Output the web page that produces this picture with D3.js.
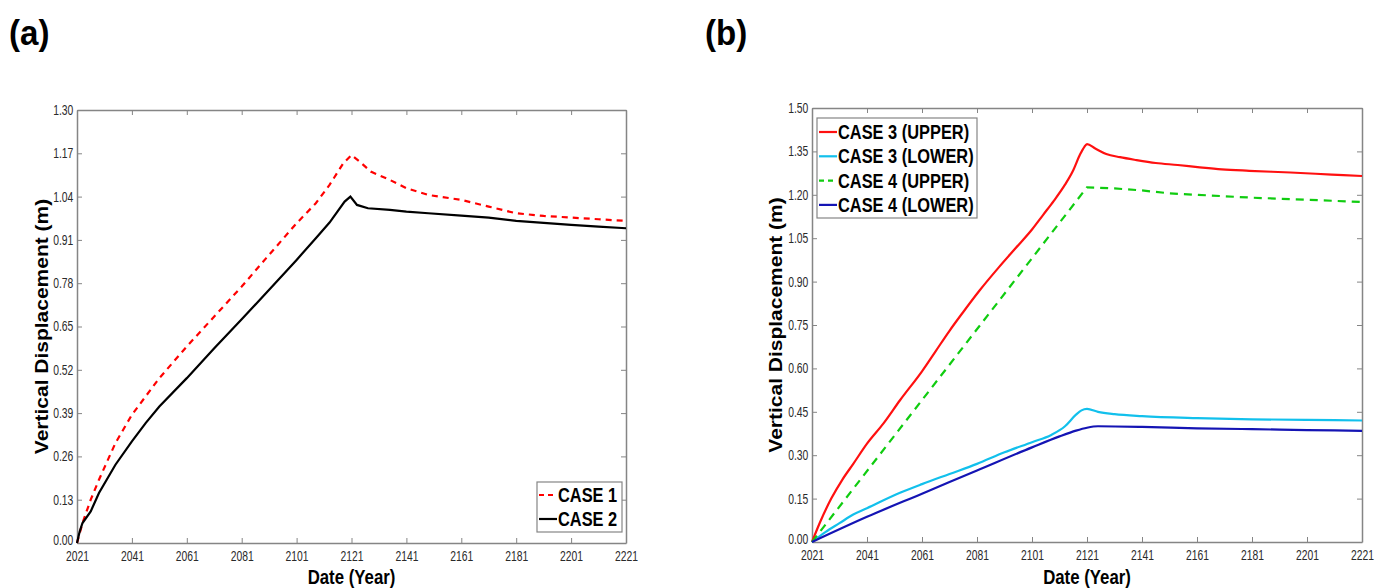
<!DOCTYPE html>
<html>
<head>
<meta charset="utf-8">
<script src="https://cdn.jsdelivr.net/npm/d3@7"></script>
<style>
body { margin: 0; background: #fff; }
</style>
</head>
<body>
<div id="chart"></div>
<script>
// ---- data ----
var xTicks = [2021, 2041, 2061, 2081, 2101, 2121, 2141, 2161, 2181, 2201, 2221];
var yTicksA = [0, 0.13, 0.26, 0.39, 0.52, 0.65, 0.78, 0.91, 1.04, 1.17, 1.30];
var yTicksB = [0, 0.15, 0.30, 0.45, 0.60, 0.75, 0.90, 1.05, 1.20, 1.35, 1.50];

// panel (a)
var case1Years = [2021, 2023, 2026, 2029, 2035, 2041, 2046, 2051, 2061, 2071, 2081, 2090, 2101, 2108, 2113, 2118, 2121, 2124, 2128, 2135, 2141, 2149, 2161, 2171, 2181, 2191, 2201, 2211, 2221];
var case1 = [0, 0.06, 0.13, 0.19, 0.30, 0.385, 0.44, 0.495, 0.59, 0.68, 0.77, 0.856, 0.96, 1.02, 1.075, 1.14, 1.165, 1.145, 1.115, 1.09, 1.065, 1.045, 1.03, 1.01, 0.99, 0.982, 0.977, 0.972, 0.967];

var case2Years = [2021, 2022, 2023, 2026, 2029, 2035, 2041, 2046, 2051, 2061, 2071, 2081, 2091, 2101, 2108, 2113, 2118.5, 2120.6, 2123, 2127, 2135, 2141, 2149, 2161, 2171, 2181, 2191, 2201, 2211, 2221];
var case2 = [0, 0.035, 0.06, 0.095, 0.15, 0.235, 0.305, 0.36, 0.41, 0.495, 0.585, 0.672, 0.76, 0.85, 0.915, 0.962, 1.025, 1.04, 1.015, 1.005, 1.0, 0.995, 0.99, 0.983, 0.977, 0.967, 0.961, 0.955, 0.95, 0.945];

// panel (b)
var case3UpYears = [2021, 2024, 2028, 2032, 2036, 2041, 2047, 2053, 2061, 2066, 2071, 2076, 2082, 2089, 2095, 2101, 2105, 2109, 2113, 2116, 2118.5, 2120, 2121, 2124, 2128, 2133, 2139, 2146, 2154, 2162, 2170, 2180, 2195, 2210, 2221];
var case3Up = [0, 0.07, 0.15, 0.215, 0.27, 0.34, 0.41, 0.49, 0.59, 0.66, 0.73, 0.795, 0.87, 0.95, 1.015, 1.08, 1.13, 1.18, 1.235, 1.285, 1.34, 1.365, 1.375, 1.36, 1.341, 1.33, 1.32, 1.31, 1.303, 1.295, 1.288, 1.283, 1.277, 1.27, 1.265];

var case3LowYears = [2021, 2026, 2031, 2036, 2041, 2053, 2061, 2071, 2081, 2091, 2101, 2108, 2113, 2117, 2119, 2121, 2125, 2131, 2141, 2161, 2181, 2201, 2221];
var case3Low = [0, 0.035, 0.065, 0.095, 0.117, 0.17, 0.20, 0.235, 0.27, 0.31, 0.345, 0.37, 0.40, 0.44, 0.455, 0.46, 0.45, 0.442, 0.435, 0.428, 0.424, 0.422, 0.42];

var case4UpYears = [2021, 2121, 2131, 2141, 2151, 2161, 2181, 2201, 2221];
var case4Up = [0, 1.226, 1.222, 1.215, 1.205, 1.20, 1.19, 1.183, 1.175];

var case4LowYears = [2021, 2041, 2061, 2081, 2101, 2111, 2117, 2121, 2125, 2141, 2161, 2181, 2201, 2221];
var case4Low = [0, 0.087, 0.167, 0.247, 0.327, 0.365, 0.385, 0.395, 0.40, 0.398, 0.393, 0.39, 0.387, 0.384];

// the original figure is squeezed sideways, so text is Arial-like squeezed too
var font = "'Liberation Sans', Arial, sans-serif";
var squeeze = 0.8;
var axisGrey = '#858585';

var svg = d3.select('#chart')
            .append('svg')
            .attr('width', 1375)
            .attr('height', 588)
            .style('font-family', font);

function zip(xs, ys) {
    return xs.map((x, i) => ({x: x, y: ys[i]}));
}

// draws one panel: box axes, ticks, curves, legend
function drawPanel(p) {
    var x = d3.scaleLinear().domain([2021, 2221]).range([p.left, p.right]);
    var y = d3.scaleLinear().domain([0, p.yMax]).range([p.bottom, p.top]);

    var g = svg.append('g');

    var bottom = g.append('g')
        .attr('transform', `translate(0, ${p.bottom})`)
        .call(d3.axisBottom(x).tickValues(xTicks).tickFormat(d3.format('d')).tickSizeInner(-5).tickSizeOuter(0).tickPadding(8));
    var top = g.append('g')
        .attr('transform', `translate(0, ${p.top})`)
        .call(d3.axisTop(x).tickValues(xTicks).tickFormat('').tickSizeInner(-5).tickSizeOuter(0));
    var left = g.append('g')
        .attr('transform', `translate(${p.left}, 0)`)
        .call(d3.axisLeft(y).tickValues(p.yTicks).tickFormat(d3.format('.2f')).tickSizeInner(-5).tickSizeOuter(0).tickPadding(5));
    var right = g.append('g')
        .attr('transform', `translate(${p.right}, 0)`)
        .call(d3.axisRight(y).tickValues(p.yTicks).tickFormat('').tickSizeInner(-5).tickSizeOuter(0));

    [bottom, top, left, right].forEach(a => {
        a.select('.domain').attr('stroke', axisGrey).attr('stroke-width', 1.5);
        a.selectAll('.tick line').attr('stroke', axisGrey).attr('stroke-width', 1);
        a.selectAll('.tick text')
            .attr('fill', '#2a2a2a')
            .attr('transform', 'scale(0.74, 1)')
            .style('font-family', font)
            .style('font-size', '14px');
    });
    // lift the 0.00 label a touch so it clears the first year label
    left.selectAll('.tick text').filter(d => d === 0).attr('dy', '0.1em');

    var line = d3.line().x(d => x(d.x)).y(d => y(d.y));

    p.series.forEach(s => {
        line.curve(s.smooth ? d3.curveMonotoneX : d3.curveLinear);
        g.append('path')
            .datum(zip(s.years, s.values))
            .attr('d', line)
            .attr('fill', 'none')
            .attr('stroke', s.color)
            .attr('stroke-width', 2.2)
            .attr('stroke-dasharray', s.dash || null);
    });

    // axis titles
    g.append('text')
        .attr('transform', `translate(${(p.left + p.right) / 2}, 584) scale(${squeeze}, 1)`)
        .attr('text-anchor', 'middle')
        .style('font-weight', 'bold')
        .style('font-size', '21px')
        .text('Date (Year)');

    g.append('text')
        .attr('transform', `translate(${p.yTitleX}, ${(p.top + p.bottom) / 2}) scale(0.85, 1) rotate(-90)`)
        .attr('text-anchor', 'middle')
        .style('font-weight', 'bold')
        .style('font-size', '21px')
        .text('Vertical Displacement (m)');

    // panel letter
    g.append('text')
        .attr('transform', `translate(${p.labelX}, 45) scale(0.92, 1)`)
        .style('font-weight', 'bold')
        .style('font-size', '36px')
        .text(p.label);

    // legend
    var lg = p.legend;
    g.append('rect')
        .attr('x', lg.x).attr('y', lg.y)
        .attr('width', lg.w).attr('height', lg.h)
        .attr('fill', '#fff')
        .attr('stroke', axisGrey)
        .attr('stroke-width', 1.2);

    var rows = g.selectAll('.legendRow')
        .data(p.series)
        .enter()
        .append('g')
        .attr('class', 'legendRow')
        .attr('transform', (d, i) => `translate(${lg.x + 2}, ${lg.y + lg.first + i * lg.step})`);

    rows.append('line')
        .attr('x1', 0).attr('x2', 18)
        .attr('y1', 0).attr('y2', 0)
        .attr('stroke', d => d.color)
        .attr('stroke-width', 2.2)
        .attr('stroke-dasharray', d => d.legendDash || null);

    rows.append('text')
        .attr('transform', `translate(19, 7) scale(${squeeze}, 1)`)
        .style('font-weight', 'bold')
        .style('font-size', '20.5px')
        .text(d => d.name);
}

drawPanel({
    left: 77, right: 626, top: 110, bottom: 543,
    yMax: 1.30, yTicks: yTicksA,
    yTitleX: 48, label: '(a)', labelX: 9,
    series: [
        {name: 'CASE 1', years: case1Years, values: case1, color: '#ff0000', dash: '6,5', legendDash: '5,4'},
        {name: 'CASE 2', years: case2Years, values: case2, color: '#000000'}
    ],
    legend: {x: 537, y: 482, w: 85, h: 50, first: 13, step: 24}
});

drawPanel({
    left: 812, right: 1362, top: 108, bottom: 542,
    yMax: 1.50, yTicks: yTicksB,
    yTitleX: 782, label: '(b)', labelX: 705,
    series: [
        {name: 'CASE 3 (UPPER)', years: case3UpYears, values: case3Up, color: '#ff1010', smooth: true},
        {name: 'CASE 3 (LOWER)', years: case3LowYears, values: case3Low, color: '#12c0ec', smooth: true},
        {name: 'CASE 4 (UPPER)', years: case4UpYears, values: case4Up, color: '#10cc10', dash: '8,6', legendDash: '5,4'},
        {name: 'CASE 4 (LOWER)', years: case4LowYears, values: case4Low, color: '#1414b4', smooth: true}
    ],
    legend: {x: 817, y: 118, w: 160, h: 100, first: 14, step: 24.3}
});
</script>
</body>
</html>
